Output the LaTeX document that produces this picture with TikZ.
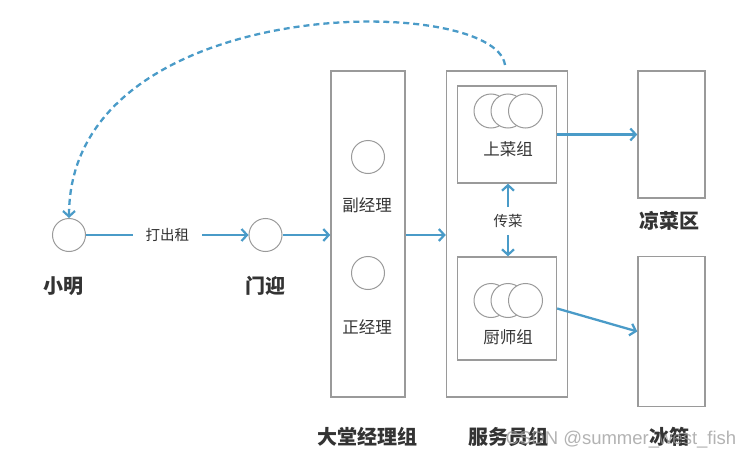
\documentclass[tikz,border=0pt]{standalone}
\usepackage{fontspec}
\setmainfont{Noto Sans CJK SC}
\newfontfamily\wmfont{Liberation Sans}
\usetikzlibrary{arrows.meta}
\definecolor{flow}{HTML}{4A9BC8}
\definecolor{edge}{HTML}{9A9A9A}
\definecolor{ink}{HTML}{333333}
\tikzset{
  circ/.style={circle, draw=edge, line width=1pt, minimum size=33pt, inner sep=0pt, fill=white},
  tri/.style={circle, draw=edge, line width=1pt, minimum size=34pt, inner sep=0pt, fill=white},
  bx/.style={draw=edge, line width=1.4pt, inner sep=0pt},
  lbl/.style={text=ink, font=\fontsize{20}{22}\selectfont\bfseries, inner sep=0pt},
  mid/.style={text=ink, font=\fontsize{16.5}{18}\selectfont, inner sep=0pt},
  sm/.style={text=ink, font=\fontsize{14.5}{16}\selectfont},
  conn/.style={draw=flow, line width=2.3pt, -{Straight Barb[length=5.5pt,width=12pt,line width=2.2pt]}},
  dconn/.style={conn, dash pattern=on 6pt off 4pt}
}
\begin{document}
\begin{tikzpicture}[x=1pt,y=-1pt]
\useasboundingbox (0,0) rectangle (753,463);
% boxes
\node[bx, minimum width=74pt, minimum height=326pt] (dt) at (368,234) {};
\node[bx, minimum width=121pt, minimum height=326pt] (fw) at (507,234) {};
\node[bx, minimum width=99pt, minimum height=97pt] (sc) at (507,134.5) {};
\node[bx, minimum width=99pt, minimum height=103pt] (cs) at (507,308.5) {};
\node[bx, minimum width=67pt, minimum height=127pt] (lc) at (671.5,134.5) {};
\node[bx, minimum width=67pt, minimum height=150pt] (bx) at (671.5,331.5) {};
% circles
\node[circ] (xm) at (69,235) {};
\node[circ] (my) at (265.5,235) {};
\node[circ] (fj) at (368,157) {};
\node[circ] (zj) at (368,273) {};
\node[tri] (s1) at (491,111) {};
\node[tri] (s2) at (508,111) {};
\node[tri] (s3) at (525.5,111) {};
\node[tri] (c1) at (491,300.5) {};
\node[tri] (c2) at (508,300.5) {};
\node[tri] (c3) at (525.5,300.5) {};
% labels
\node[lbl] (xml) at (63,286) {小明};
\node[lbl] (myl) at (265,286) {门迎};
\node[lbl] (dtl) at (367,437) {大堂经理组};
\node[lbl] (fwl) at (508,437) {服务员组};
\node[lbl] (lcl) at (669,221) {凉菜区};
\node[lbl] (bxl) at (669,437) {冰箱};
\node[mid] (fjl) at (367,205) {副经理};
\node[mid] (zjl) at (367,327) {正经理};
\node[mid] (scl) at (508,149) {上菜组};
\node[mid] (csl) at (508,337) {厨师组};
\node[sm, inner xsep=0pt, inner ysep=7pt] (cc) at (508,221) {传菜};
% connectors
\draw[conn] (xm) -- node[sm, fill=white, inner xsep=13pt] (dcz) {打出租} (my);
\draw[conn] (my) -- (my -| dt.west);
\draw[conn] (dt.east |- my) -- (fw.west |- my);
\draw[conn] (sc.east) -- (sc.east -| lc.west);
\draw[conn] (cs.east) -- (bx.west);
\draw[conn] (cc.north) -- (cc.north |- sc.south);
\draw[conn] (cc.south) -- (cc.south |- cs.north);
\coordinate (ds) at (505,65);
\draw[dconn] (ds) .. controls (495,-8) and (69,-8) .. (xm.north);
% watermark
\node[text=black!40, opacity=0.75, font=\wmfont\fontsize{18.5}{20}\selectfont, inner sep=0pt] (wm) at (621,440) {CSDN @summer\_west\_fish};
\end{tikzpicture}
\end{document}
